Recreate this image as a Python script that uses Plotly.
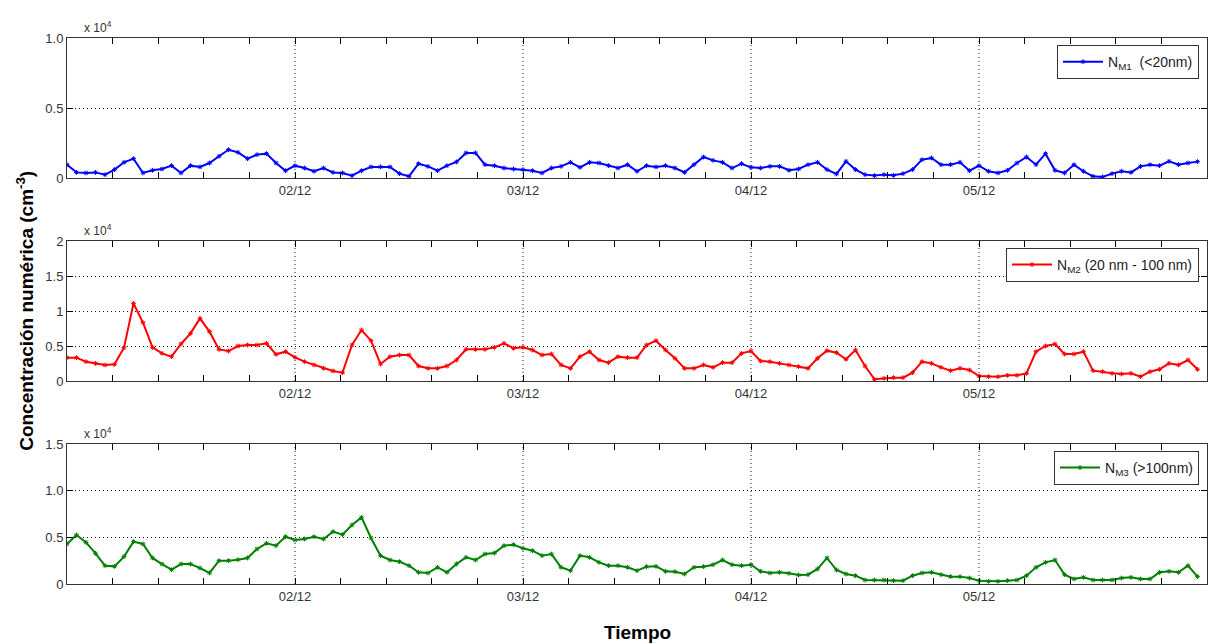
import pandas as pd
import plotly.graph_objects as go

# Hourly timestamps, 01/12 00:00 .. 05/12 23:00
times = pd.date_range("2012-12-01 00:00", periods=120, freq="h")

n_m1 = [950, 400, 360, 400, 240, 600, 1120, 1380, 360, 550, 640, 880, 360, 880, 790, 1070,
        1550, 2020, 1830, 1380, 1670, 1740, 1070, 520, 880, 710, 480, 710, 400, 360, 170, 520,
        790, 790, 790, 310, 120, 1020, 830, 520, 880, 1150,
        1790, 1790, 950, 880, 710, 640, 600, 520, 360, 710, 830, 1120, 760, 1120, 1070, 880,
        710, 950, 480, 880, 790, 880, 710, 400, 950, 1500, 1260, 1120, 710, 1020, 760, 710,
        830, 830, 550, 640, 950, 1120, 600, 290, 1190,
        600, 240, 170, 240, 190, 310, 600, 1310, 1430, 950, 950, 1120, 520, 880, 480, 360,
        550, 1070, 1500, 950, 1740, 550, 360, 950, 480, 120, 70, 310, 480, 400, 830, 950,
        880, 1190, 950, 1070, 1170]

n_m2 = [3330, 3330, 2760, 2520, 2290, 2380, 4760, 11090, 8330, 4810, 3950, 3480, 5290, 6810,
        8950, 7050, 4520, 4280, 5000, 5140, 5140, 5380, 3810, 4190, 3380, 2760, 2290, 1810,
        1430, 1190, 5140, 7280, 5760, 2430, 3480, 3710, 3710, 2140, 1810, 1810, 2140, 3000,
        4520, 4520, 4520, 4810, 5380, 4670, 4810, 4430, 3710, 3860, 2290, 1810, 3480, 4190,
        3000, 2620, 3480, 3330, 3330, 5140, 5760, 4430, 3240, 1810, 1810, 2290, 1950, 2620,
        2620, 3950, 4280, 2860, 2760, 2520, 2290, 2050, 1810, 3240, 4330, 4050, 3100,
        4430, 2140, 240, 380, 480, 480, 1190, 2760, 2520, 1950, 1480, 1810, 1570, 710, 620,
        620, 810, 810, 1090, 4190, 5000, 5280, 3860, 3860, 4190, 1480, 1330, 1090, 1000, 1090,
        620, 1330, 1670, 2520, 2290, 3000, 1670]

n_m3 = [4290, 5250, 4460, 3290, 1960, 1890, 2930, 4540, 4290, 2790, 2140, 1540, 2140, 2140,
        1710, 1180, 2500, 2500, 2610, 2790, 3750, 4360, 4110, 5070, 4710, 4820, 5070, 4820,
        5610, 5290, 6320, 7140, 4930, 3040, 2570, 2390, 1960, 1250, 1180, 1790, 1250, 2150,
        2860, 2570, 3210, 3320, 4110, 4210, 3820, 3570, 3040, 3210, 1790, 1430, 3040, 2860,
        2320, 1960, 1960, 1790, 1430, 1860, 1890, 1360, 1320, 1070, 1790, 1860, 2070, 2570,
        2070, 1960, 2070, 1360, 1180, 1250, 1140, 960, 1000, 1610, 2790, 1500, 1070,
        890, 430, 430, 430, 360, 360, 890, 1180, 1250, 1000, 790, 790, 640, 360, 290, 290,
        360, 430, 890, 1790, 2320, 2570, 1000, 540, 710, 430, 430, 430, 640, 710, 540, 540,
        1250, 1360, 1250, 1960, 790]

series_names = ["N<sub>M1</sub>  (&lt;20nm)", "N<sub>M2</sub> (20 nm - 100 nm)", "N<sub>M3</sub> (&gt;100nm)"]
series_colors = ["#0000ff", "#ff0000", "#008000"]

x_tickvals = ["2012-12-02", "2012-12-03", "2012-12-04", "2012-12-05"]
x_ticktext = ["02/12", "03/12", "04/12", "05/12"]

# tick marks every 0.2 day (4.8 h); labels only at the day boundaries
tick_times = pd.date_range("2012-12-01 00:00", "2012-12-06 00:00", freq="288min")
label_map = dict(zip(pd.to_datetime(x_tickvals), x_ticktext))
all_tickvals = [t.strftime("%Y-%m-%d %H:%M") for t in tick_times]
all_ticktext = [label_map.get(t, "") for t in tick_times]

y1_tickvals = [0, 5000, 10000]
y1_ticktext = ["0", "0.5", "1.0"]
y2_tickvals = [0, 5000, 10000, 15000, 20000]
y2_ticktext = ["0", "0.5", "1", "1.5", "2"]
y3_tickvals = [0, 5000, 10000, 15000]
y3_ticktext = ["0", "0.5", "1.0", "1.5"]

FONT = "Liberation Sans, Arial, Helvetica, sans-serif"
fig = go.Figure()

data = [n_m1, n_m2, n_m3]
for i in range(3):
    sfx = "" if i == 0 else str(i + 1)
    fig.add_trace(go.Scatter(
        x=times, y=data[i], mode="lines+markers", name=series_names[i],
        line=dict(color=series_colors[i], width=2),
        marker=dict(symbol="asterisk-open", size=4, color=series_colors[i],
                    line=dict(color=series_colors[i], width=1)),
        xaxis="x" + sfx, yaxis="y" + sfx, legend="legend" + sfx,
    ))

xrange = ["2012-12-01 00:00", "2012-12-06 00:00"]
GRIDDASH = "1px,3px"
common_x = dict(
    type="date", range=xrange, tickmode="array", tickvals=all_tickvals, ticktext=all_ticktext,
    ticks="inside", ticklen=6, tickwidth=1.2, tickcolor="#000", showline=True, linecolor="#333",
    linewidth=1, mirror="ticks", showgrid=False, zeroline=False,
    tickfont=dict(family=FONT, size=13, color="#333"),
)
common_y = dict(
    ticks="inside", ticklen=6, tickwidth=1.2, tickcolor="#000", showline=True, linecolor="#333",
    linewidth=1, mirror="ticks", showgrid=True, gridcolor="#111", griddash=GRIDDASH,
    gridwidth=1, zeroline=False, tickfont=dict(family=FONT, size=13, color="#333"),
)

domains = [[0.7436, 1.0], [0.3718, 0.6282], [0.0, 0.2564]]
yranges = [[0, 10000], [0, 20000], [0, 15000]]
ytv = [y1_tickvals, y2_tickvals, y3_tickvals]
ytt = [y1_ticktext, y2_ticktext, y3_ticktext]
legend_y = [0.987, 0.6154, 0.2436]

layout = {}
shapes = []
for i in range(3):
    sfx = "" if i == 0 else str(i + 1)
    xa = dict(common_x)
    xa["anchor"] = "y" + sfx
    ya = dict(common_y)
    ya.update(domain=domains[i], range=yranges[i], tickvals=ytv[i], ticktext=ytt[i],
              anchor="x" + sfx)
    layout["xaxis" + sfx] = xa
    layout["yaxis" + sfx] = ya
    layout["legend" + sfx] = dict(
        x=0.993, y=legend_y[i], xanchor="right", yanchor="top",
        bgcolor="white", bordercolor="#333", borderwidth=1,
        font=dict(family=FONT, size=14, color="#222"),
        itemwidth=40, tracegroupgap=0,
    )
    # vertical dotted grid lines at the labelled day ticks
    for tv in x_tickvals:
        shapes.append(dict(
            type="line", xref="x" + sfx, yref="y" + sfx + " domain",
            x0=tv, x1=tv, y0=0, y1=1, layer="below",
            line=dict(color="#111", width=1, dash=GRIDDASH),
        ))

fig.update_layout(**layout)

annotations = []
for i in range(3):
    sfx = "" if i == 0 else str(i + 1)
    annotations.append(dict(
        text="x 10<sup>4</sup>", xref="x" + sfx + " domain", yref="y" + sfx + " domain",
        x=0.013, y=1.0, xanchor="left", yanchor="bottom", yshift=1, showarrow=False,
        font=dict(family=FONT, size=12, color="#333"),
    ))
annotations.append(dict(
    text="<b>Concentración numérica (cm<sup>-3</sup>)</b>", xref="paper", yref="paper",
    x=-0.037, y=0.5, xanchor="center", yanchor="middle", textangle=-90, showarrow=False,
    font=dict(family=FONT, size=19, color="black"),
))
annotations.append(dict(
    text="<b>Tiempo</b>", xref="paper", yref="paper", x=0.5, y=-0.088,
    xanchor="center", yanchor="middle", showarrow=False,
    font=dict(family=FONT, size=19, color="black"),
))

fig.update_layout(
    width=1209, height=644,
    margin=dict(l=67, r=2, t=38, b=60),
    paper_bgcolor="white", plot_bgcolor="white",
    showlegend=True, annotations=annotations, shapes=shapes,
    font=dict(family=FONT),
)

fig.write_html("out.html", config={"displayModeBar": False},
               post_script="document.body.style.margin='0';")
